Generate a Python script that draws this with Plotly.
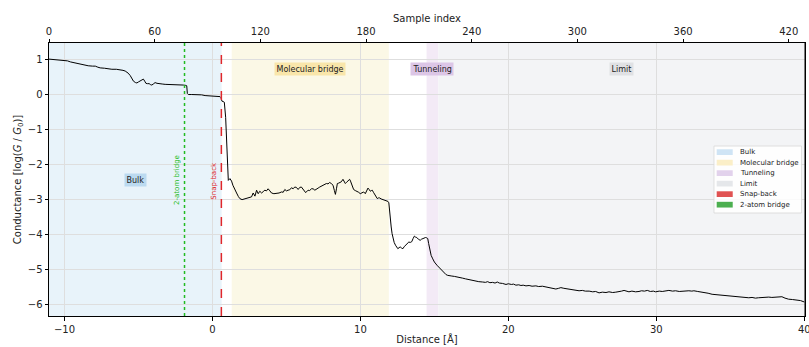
import plotly.graph_objects as go

# ---- data ----
DIST = [-11.05, -10.8, -10.5, -10.28, -10.0, -9.8, -9.6, -9.4, -9.16, -8.9, -8.71, -8.4, -8.1, -7.92, -7.75, -7.59,
        -7.3, -7.0, -6.8, -6.5, -6.24, -6.05, -5.9, -5.7, -5.56, -5.45, -5.34, -5.2, -5.11, -5.0, -4.89, -4.78,
        -4.67, -4.58, -4.5, -4.4, -4.28, -4.18, -4.1, -4.0, -3.88, -3.75, -3.65, -3.4, -3.2, -2.9, -2.6, -2.3,
        -1.97, -1.80, -1.74, -1.70, -1.63, -1.4, -1.1, -0.73, -0.5, -0.28, 0.0, 0.3, 0.51, 0.58, 0.64, 0.72,
        0.80, 0.89, 0.95, 1.00, 1.07, 1.18, 1.29, 1.38, 1.47, 1.63, 1.75, 1.85, 2.0, 2.08, 2.25, 2.41, 2.52,
        2.64, 2.75, 2.87, 2.98, 3.09, 3.2, 3.32, 3.43, 3.54, 3.65, 3.76, 3.88, 3.99, 4.15, 4.33, 4.5, 4.67,
        4.78, 4.89, 5.0, 5.11, 5.22, 5.34, 5.45, 5.56, 5.67, 5.79, 5.9, 6.01, 6.12, 6.24, 6.30, 6.46, 6.57,
        6.69, 6.80, 6.92, 7.03, 7.14, 7.25, 7.36, 7.47, 7.58, 7.70, 7.81, 7.92, 8.03, 8.15, 8.24, 8.31, 8.38,
        8.44, 8.52, 8.60, 8.71, 8.82, 8.90, 8.98, 9.05, 9.12, 9.2, 9.27, 9.33, 9.39, 9.46, 9.54, 9.65, 9.77,
        9.88, 9.99, 10.1, 10.22, 10.33, 10.42, 10.51, 10.59, 10.67, 10.74, 10.80, 10.88, 10.96, 11.05, 11.14,
        11.22, 11.29, 11.4, 11.52, 11.63, 11.72, 11.86, 11.92, 11.97, 12.02, 12.08, 12.14, 12.19, 12.28, 12.37,
        12.45, 12.53, 12.61, 12.69, 12.78, 12.87, 12.96, 13.05, 13.16, 13.27, 13.37, 13.47, 13.56, 13.65, 13.73,
        13.81, 13.92, 14.04, 14.12, 14.21, 14.30, 14.40, 14.48, 14.55, 14.61, 14.67, 14.72, 14.78, 14.89, 15.0,
        15.17, 15.34, 15.45, 15.56, 15.68, 15.79, 15.9, 16.01, 16.18, 16.35, 16.52, 16.69, 16.91, 17.1, 17.3,
        17.45, 17.59, 17.8, 18.0, 18.26, 18.45, 18.6, 18.75, 18.93, 19.1, 19.25, 19.39, 19.6, 19.84, 20.0, 20.2,
        20.35, 20.51, 20.7, 20.85, 21.0, 21.19, 21.4, 21.6, 21.86, 22.05, 22.3, 22.54, 22.75, 22.95, 23.21,
        23.4, 23.55, 23.75, 23.9, 24.11, 24.3, 24.5, 24.78, 25.0, 25.2, 25.46, 25.7, 25.9, 26.13, 26.35, 26.6,
        26.8, 27.05, 27.26, 27.5, 27.65, 27.82, 28.0, 28.15, 28.35, 28.6, 28.83, 29.0, 29.2, 29.39, 29.6, 29.8,
        29.95, 30.2, 30.4, 30.63, 30.85, 31.1, 31.3, 31.55, 31.75, 31.98, 32.2, 32.4, 32.54, 32.8, 33.0, 33.21,
        33.5, 33.77, 34.0, 34.2, 34.44, 34.7, 34.9, 35.12, 35.4, 35.6, 35.79, 36.0, 36.25, 36.47, 36.7, 36.9,
        37.14, 37.4, 37.6, 37.81, 38.0, 38.25, 38.49, 38.7, 38.94, 39.2, 39.5, 39.75, 40.0]

COND = [1.00, 0.99, 0.98, 0.97, 0.97, 0.95, 0.92, 0.90, 0.89, 0.86, 0.83, 0.81, 0.80, 0.80, 0.77, 0.75,
        0.74, 0.72, 0.71, 0.71, 0.70, 0.68, 0.66, 0.60, 0.53, 0.44, 0.37, 0.33, 0.32, 0.35, 0.38, 0.42,
        0.43, 0.37, 0.31, 0.30, 0.30, 0.27, 0.26, 0.29, 0.33, 0.31, 0.30, 0.29, 0.28, 0.28, 0.27, 0.27,
        0.26, 0.25, 0.24, 0.02, -0.01, -0.01, -0.01, -0.02, -0.04, -0.05, -0.06, -0.07, -0.07, -0.10, -0.20, -0.21,
        -0.23, -0.66, -1.25, -1.79, -2.46, -2.41, -2.48, -2.60, -2.70, -2.82, -2.92, -2.98, -3.01, -3.00, -3.00, -2.98, -2.95,
        -2.93, -2.82, -2.91, -2.74, -2.84, -2.77, -2.82, -2.78, -2.74, -2.76, -2.70, -2.76, -2.82, -2.84, -2.84, -2.82, -2.79,
        -2.80, -2.72, -2.76, -2.74, -2.73, -2.67, -2.70, -2.65, -2.66, -2.72, -2.66, -2.65, -2.70, -2.77, -2.81, -2.74, -2.75,
        -2.70, -2.70, -2.74, -2.72, -2.68, -2.65, -2.63, -2.60, -2.59, -2.55, -2.56, -2.52, -2.55, -2.60, -2.75, -2.86, -2.70,
        -2.55, -2.54, -2.52, -2.50, -2.43, -2.50, -2.55, -2.52, -2.49, -2.46, -2.43, -2.48, -2.55, -2.64, -2.72, -2.75, -2.77,
        -2.80, -2.84, -2.81, -2.79, -2.84, -2.76, -2.68, -2.72, -2.77, -2.75, -2.74, -2.80, -2.87, -2.93, -2.98,
        -2.96, -2.96, -2.99, -3.01, -3.03, -3.05, -3.06, -3.10, -3.41, -3.60, -3.79, -3.98, -4.12, -4.23, -4.31,
        -4.37, -4.41, -4.38, -4.36, -4.39, -4.41, -4.35, -4.31, -4.26, -4.22, -4.23, -4.21, -4.12, -4.05, -4.08,
        -4.09, -4.14, -4.17, -4.14, -4.12, -4.10, -4.09, -4.10, -4.12, -4.26, -4.41, -4.51, -4.60, -4.70, -4.79,
        -4.88, -4.96, -5.00, -5.05, -5.09, -5.15, -5.17, -5.17, -5.19, -5.20, -5.21, -5.23, -5.25, -5.27, -5.29,
        -5.31, -5.32, -5.34, -5.35, -5.36, -5.37, -5.35, -5.38, -5.37, -5.39, -5.36, -5.39, -5.40, -5.43, -5.41, -5.43,
        -5.42, -5.45, -5.44, -5.46, -5.45, -5.47, -5.46, -5.48, -5.47, -5.49, -5.48, -5.50, -5.51, -5.54, -5.56,
        -5.54, -5.52, -5.54, -5.55, -5.56, -5.58, -5.59, -5.61, -5.60, -5.62, -5.62, -5.64, -5.63, -5.67, -5.65, -5.66,
        -5.64, -5.66, -5.65, -5.64, -5.62, -5.60, -5.63, -5.64, -5.62, -5.64, -5.63, -5.61, -5.62, -5.60, -5.63, -5.62,
        -5.64, -5.62, -5.63, -5.62, -5.60, -5.62, -5.61, -5.63, -5.62, -5.63, -5.61, -5.62, -5.61, -5.63, -5.64, -5.65,
        -5.68, -5.71, -5.72, -5.71, -5.74, -5.73, -5.76, -5.75, -5.77, -5.79, -5.78, -5.80, -5.81, -5.80, -5.82, -5.81,
        -5.80, -5.80, -5.79, -5.80, -5.79, -5.78, -5.78, -5.82, -5.85, -5.86, -5.87, -5.89, -5.93]

SAMPLE_TICKS = [0, 60, 120, 180, 240, 300, 360, 420]
SAMPLE_MAX = 429.2
DIST_TICKS = [-10, 0, 10, 20, 30, 40]
COND_TICKS = [1, 0, -1, -2, -3, -4, -5, -6]

REGION_NAMES = ["Bulk", "Molecular bridge", "Tunneling", "Limit"]
REGION_START = [-11.05, 1.30, 14.47, 15.27]
REGION_END = [0.62, 11.92, 15.27, 40.05]
REGION_FILL = ["rgb(232,243,250)", "rgb(251,248,230)", "rgb(243,234,246)", "rgb(243,244,246)"]
REGION_PATCH = ["rgb(207,228,245)", "rgb(251,239,200)", "rgb(226,210,236)", "rgb(229,231,234)"]
REGION_LABEL_BG = ["rgb(187,218,240)", "rgb(249,230,170)", "rgb(220,198,230)", "rgb(224,225,228)"]
REGION_LABEL_Y = [-2.46, 0.73, 0.73, 0.73]

EVENT_NAMES = ["Snap-back", "2-atom bridge"]
EVENT_X = [0.60, -1.89]
EVENT_COLORS = ["#e0262b", "#22bb22"]
EVENT_PATCH = ["rgb(224,82,82)", "rgb(76,175,80)"]
EVENT_DASH = ["dash", "dot"]
EVENT_LABEL_Y = -2.46

FONT = "DejaVu Sans"
X_RANGE = [-11.05, 40.05]
Y_RANGE = [-6.33, 1.46]

fig = go.Figure()
fig.add_trace(go.Scatter(x=DIST, y=COND, mode="lines", line=dict(color="black", width=1),
                         showlegend=False, hoverinfo="skip"))
fig.add_trace(go.Scatter(x=[0, SAMPLE_MAX], y=[0, 0], xaxis="x2", mode="markers",
                         marker=dict(opacity=0), showlegend=False, hoverinfo="skip"))

shapes = []
annotations = []
for name, x0, x1, fill, bg, ly in zip(REGION_NAMES, REGION_START, REGION_END, REGION_FILL,
                                      REGION_LABEL_BG, REGION_LABEL_Y):
    shapes.append(dict(type="rect", xref="x", yref="paper", x0=x0, x1=x1, y0=0, y1=1,
                       fillcolor=fill, line=dict(width=0), layer="below"))
    annotations.append(dict(x=(x0 + x1) / 2, y=ly, xref="x", yref="y", text=name, showarrow=False,
                            font=dict(family=FONT, size=8, color="#222"), bgcolor=bg,
                            borderpad=1.5, xanchor="center", yanchor="middle"))

for name, xv, col, dash in zip(EVENT_NAMES, EVENT_X, EVENT_COLORS, EVENT_DASH):
    shapes.append(dict(type="line", xref="x", yref="paper", x0=xv, x1=xv, y0=0, y1=1,
                       line=dict(color=col, width=1.5, dash=dash), layer="above"))
    annotations.append(dict(x=xv, y=EVENT_LABEL_Y, xref="x", yref="y", text=name, showarrow=False,
                            textangle=-90, font=dict(family=FONT, size=7, color=col),
                            xanchor="right", yanchor="middle", xshift=-1))

# custom legend (paper coords relative to plot area)
LEG_X0, LEG_X1, LEG_Y0, LEG_Y1 = 0.8796, 0.9954, 0.3773, 0.6227
shapes.append(dict(type="rect", xref="paper", yref="paper", x0=LEG_X0, x1=LEG_X1, y0=LEG_Y0, y1=LEG_Y1,
                   fillcolor="rgba(255,255,255,0.85)", line=dict(color="#d8d8d8", width=0.8), layer="above"))
leg_names = REGION_NAMES + EVENT_NAMES
leg_cols = REGION_PATCH + EVENT_PATCH
row_h = 0.0385
top_row = 0.6003
for i, (nm, col) in enumerate(zip(leg_names, leg_cols)):
    yc = top_row - i * row_h
    shapes.append(dict(type="rect", xref="paper", yref="paper", x0=0.8832, x1=0.9044,
                       y0=yc - 0.0105, y1=yc + 0.0105, fillcolor=col, line=dict(width=0), layer="above"))
    annotations.append(dict(x=0.9115, y=yc, xref="paper", yref="paper", text=nm, showarrow=False,
                            xanchor="left", yanchor="middle", font=dict(family=FONT, size=7, color="#222")))

axis_common = dict(showline=True, linecolor="black", linewidth=1, ticks="outside", ticklen=3.5,
                   tickcolor="black", tickfont=dict(family=FONT, size=10, color="#222"), zeroline=False,
                   ticklabeloverflow="allow", automargin=False)

fig.update_layout(
    width=809, height=347,
    margin=dict(l=49, r=4, t=43, b=31, autoexpand=False),
    paper_bgcolor="white", plot_bgcolor="white",
    font=dict(family=FONT, size=10, color="#222"),
    xaxis=dict(range=X_RANGE, tickvals=DIST_TICKS, mirror=False, showgrid=True, gridcolor="#dedede",
               gridwidth=1, title=dict(text="Distance [Å]", font=dict(family=FONT, size=10), standoff=2),
               **axis_common),
    xaxis2=dict(range=[0, SAMPLE_MAX], overlaying="x", side="top", tickvals=SAMPLE_TICKS, showgrid=False,
                title=dict(text="Sample index", font=dict(family=FONT, size=10), standoff=1),
                **axis_common),
    yaxis=dict(range=Y_RANGE, tickvals=COND_TICKS, mirror=True, showgrid=True, gridcolor="#dedede",
               gridwidth=1,
               title=dict(text="Conductance [log(<i>G</i> / <i>G</i><sub>0</sub>)]",
                          font=dict(family=FONT, size=10), standoff=4),
               **axis_common),
    shapes=shapes, annotations=annotations,
)
# right spine
fig.add_shape(type="line", xref="paper", yref="paper", x0=1, x1=1, y0=0, y1=1,
              line=dict(color="black", width=1), layer="above")

fig.write_html("out.html")
